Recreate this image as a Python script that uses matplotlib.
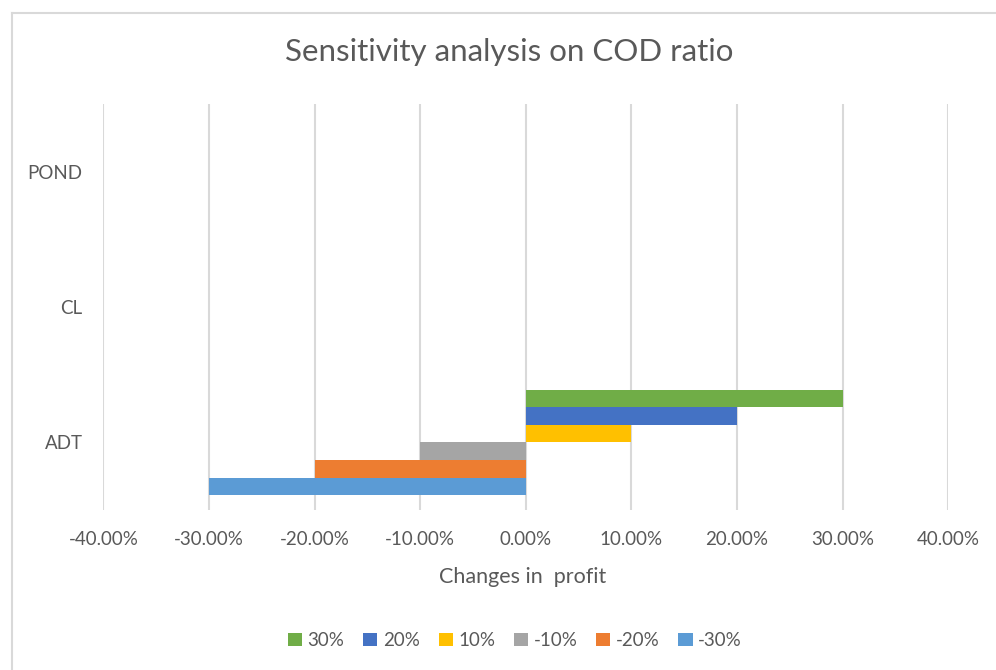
import matplotlib
matplotlib.use("Agg")
import matplotlib.pyplot as plt
from matplotlib.lines import Line2D
from matplotlib.patches import Patch
from matplotlib.ticker import FuncFormatter

categories = ["ADT", "CL", "POND"]
series = ["30%", "20%", "10%", "-10%", "-20%", "-30%"]
# change in profit per category (ADT, CL, POND) for each series
s_p30 = [0.30, 0.0, 0.0]
s_p20 = [0.20, 0.0, 0.0]
s_p10 = [0.10, 0.0, 0.0]
s_m10 = [-0.10, 0.0, 0.0]
s_m20 = [-0.20, 0.0, 0.0]
s_m30 = [-0.30, 0.0, 0.0]
values = [s_p30, s_p20, s_p10, s_m10, s_m20, s_m30]
colors = ["#70AD47", "#4472C4", "#FFC000", "#A5A5A5", "#ED7D31", "#5B9BD5"]
xticks = [-0.4, -0.3, -0.2, -0.1, 0.0, 0.1, 0.2, 0.3, 0.4]

plt.rcParams['font.family'] = ['Lato', 'DejaVu Sans']
txt = "#595959"

fig = plt.figure(figsize=(9.96, 6.7), dpi=100)
ax = fig.add_axes([0.1039, 0.2388, 0.848, 0.6060])

h = 0.13
for i in range(len(series)):
	offs = (2.5 - i) * h
	ypos = [k + offs for k in range(len(categories))]
	ax.barh(ypos, values[i], height=h, color=colors[i], linewidth=0, zorder=3)

ax.set_xlim(-0.4, 0.4)
ax.set_ylim(-0.5, 2.5)
ax.set_xticks(xticks)
ax.xaxis.set_major_formatter(FuncFormatter(lambda v, p: "%.2f%%" % (v * 100)))
ax.set_yticks(range(len(categories)))
ax.set_yticklabels(categories)
ax.grid(axis="x", color="#D9D9D9", linewidth=1.5, zorder=0)
for s in ax.spines.values():
	s.set_visible(False)
ax.tick_params(axis="both", length=0, labelsize=13.5, labelcolor=txt)
ax.tick_params(axis="x", pad=15)
ax.tick_params(axis="y", pad=15)

fig.text(0.5115, 0.922, "Sensitivity analysis on COD ratio", ha="center", va="center",
	fontsize=22.5, color=txt)
fig.text(0.5245, 0.139, "Changes in  profit", ha="center", va="center", fontsize=15.5, color=txt)

handles = [Patch(facecolor=c, edgecolor="none") for c in colors]
fig.legend(handles, series, loc="center", bbox_to_anchor=(0.517, 0.044), ncol=6, frameon=False,
	fontsize=13.5, labelcolor=txt, handlelength=0.75, handleheight=0.75, handletextpad=0.3,
	columnspacing=1.0)

# chart frame (top and left edges visible)
fig.add_artist(Line2D([12 / 996, 1.0], [1 - 13 / 670, 1 - 13 / 670], color="#D9D9D9", linewidth=1.5))
fig.add_artist(Line2D([12 / 996, 12 / 996], [0.0, 1 - 13 / 670], color="#D9D9D9", linewidth=1.5))

fig.savefig("out.png", dpi=100)
